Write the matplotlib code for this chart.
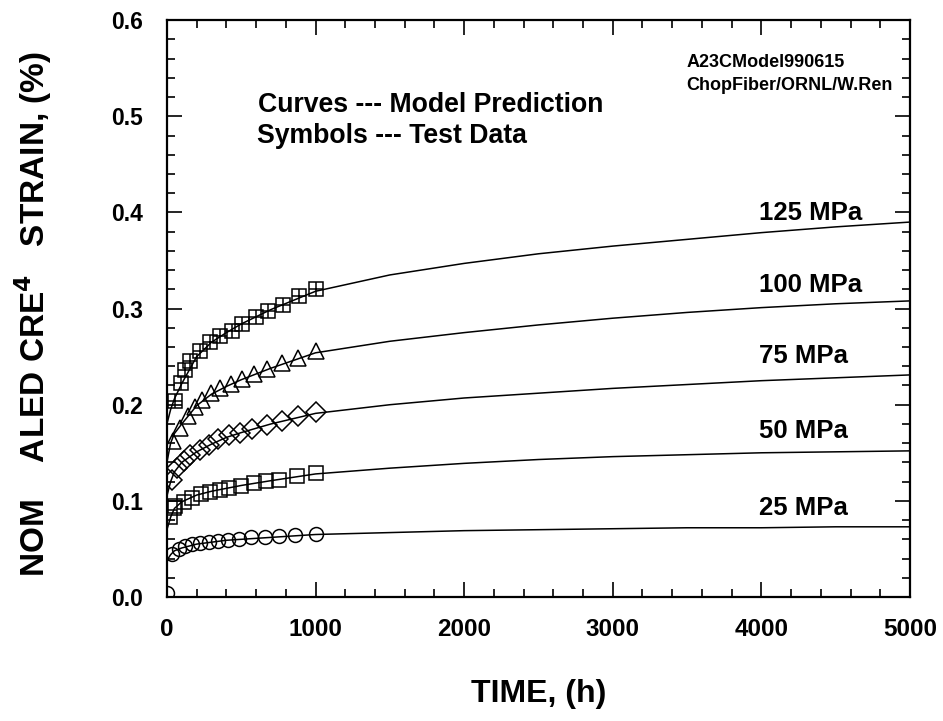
import matplotlib
matplotlib.use('Agg')
import matplotlib.pyplot as plt
from matplotlib.ticker import MultipleLocator
from matplotlib import rcParams
rcParams['font.family'] = ['Liberation Sans', 'DejaVu Sans']
rcParams['font.weight'] = 'bold'
rcParams['mathtext.default'] = 'bf'

# model prediction curves (time in h, normalized creep strain in %)
t_model = [0, 25, 50, 100, 200, 300, 400, 500, 700, 1000, 1500, 2000, 2500, 3000, 3500, 4000, 4500, 5000]
m125 = [0.180, 0.195, 0.206, 0.222, 0.250, 0.265, 0.275, 0.284, 0.299, 0.318, 0.335, 0.347, 0.357, 0.365, 0.372, 0.379, 0.385, 0.390]
m100 = [0.140, 0.160, 0.170, 0.180, 0.199, 0.211, 0.219, 0.226, 0.238, 0.254, 0.266, 0.275, 0.283, 0.290, 0.296, 0.301, 0.305, 0.308]
m75 = [0.105, 0.120, 0.130, 0.140, 0.151, 0.159, 0.166, 0.171, 0.180, 0.191, 0.200, 0.207, 0.212, 0.217, 0.221, 0.225, 0.228, 0.231]
m50 = [0.070, 0.083, 0.092, 0.099, 0.106, 0.110, 0.113, 0.116, 0.121, 0.128, 0.134, 0.139, 0.143, 0.146, 0.148, 0.150, 0.151, 0.152]
m25 = [0.038, 0.044, 0.048, 0.051, 0.055, 0.057, 0.059, 0.060, 0.062, 0.065, 0.067, 0.069, 0.070, 0.071, 0.072, 0.072, 0.073, 0.073]

# test data
t125 = [52, 97, 124, 158, 225, 293, 360, 435, 507, 597, 682, 784, 890, 1000]
d125 = [0.204, 0.223, 0.236, 0.246, 0.256, 0.265, 0.271, 0.277, 0.284, 0.291, 0.297, 0.304, 0.313, 0.320]
t100 = [38, 90, 142, 187, 236, 299, 360, 428, 502, 584, 674, 776, 884, 1000]
d100 = [0.162, 0.176, 0.188, 0.198, 0.205, 0.212, 0.217, 0.222, 0.227, 0.232, 0.237, 0.243, 0.249, 0.256]
t75 = [34, 67, 112, 157, 224, 281, 343, 415, 494, 572, 673, 774, 882, 1000]
d75 = [0.122, 0.134, 0.141, 0.148, 0.153, 0.158, 0.164, 0.168, 0.171, 0.175, 0.179, 0.183, 0.188, 0.192]
t50 = [22, 45, 56, 112, 168, 231, 292, 359, 415, 500, 584, 667, 752, 875, 1000]
d50 = [0.083, 0.093, 0.095, 0.099, 0.103, 0.107, 0.109, 0.111, 0.113, 0.115, 0.119, 0.121, 0.122, 0.126, 0.129]
t25 = [0, 34, 79, 124, 168, 224, 281, 343, 411, 487, 568, 658, 752, 864, 1000]
d25 = [0.004, 0.045, 0.050, 0.053, 0.055, 0.056, 0.057, 0.058, 0.059, 0.060, 0.062, 0.062, 0.063, 0.064, 0.066]

labels = ['125 MPa', '100 MPa', '75 MPa', '50 MPa', '25 MPa']
label_y = [0.399, 0.325, 0.251, 0.173, 0.093]

fig = plt.figure(figsize=(9.43, 7.21), dpi=100)
ax = fig.add_axes([0.177, 0.172, 0.788, 0.800])

for m in [m125, m100, m75, m50, m25]:
	ax.plot(t_model, m, color='black', linewidth=1.1)

ax.plot(t125, d125, linestyle='none', marker='s', markersize=9.5, mfc='none', mec='black', mew=1.1)
ax.plot(t125, d125, linestyle='none', marker='+', markersize=9.5, mec='black', mew=1.1)
ax.plot(t100, d100, linestyle='none', marker='^', markersize=11, mfc='none', mec='black', mew=1.1)
ax.plot(t75, d75, linestyle='none', marker='D', markersize=10, mfc='none', mec='black', mew=1.1)
ax.plot(t50, d50, linestyle='none', marker='s', markersize=10.5, mfc='none', mec='black', mew=1.1)
ax.plot(t25, d25, linestyle='none', marker='o', markersize=10, mfc='none', mec='black', mew=1.1)

for lab, y in zip(labels, label_y):
	ax.text(3985, y, lab, ha='left', va='center', fontsize=18.5, fontweight='bold')

ax.text(612, 0.512, 'Curves --- Model Prediction', fontsize=19.2, fontweight='bold', va='center')
ax.text(606, 0.480, 'Symbols --- Test Data', fontsize=19.2, fontweight='bold', va='center')
ax.text(3497, 0.556, 'A23CModel990615', fontsize=13, fontweight='bold', va='center')
ax.text(3497, 0.532, 'ChopFiber/ORNL/W.Ren', fontsize=13, fontweight='bold', va='center')

ax.set_xlim(0, 5000)
ax.set_ylim(0, 0.6)
ax.xaxis.set_major_locator(MultipleLocator(1000))
ax.xaxis.set_minor_locator(MultipleLocator(200))
ax.yaxis.set_minor_locator(MultipleLocator(0.02))
ax.set_yticks([0, 0.1, 0.2, 0.3, 0.4, 0.5, 0.6])
ax.set_yticklabels(['0.0', '0.1', '0.2', '0.3', '0.4', '0.5', '0.6'])
ax.tick_params(which='both', direction='in', top=True, right=True, width=1.2)
ax.tick_params(which='major', length=11)
ax.tick_params(which='minor', length=6)
ax.tick_params(axis='y', which='major', labelsize=16.5, pad=17)
ax.tick_params(axis='x', which='major', labelsize=17.5, pad=15)
for lab in ax.get_xticklabels() + ax.get_yticklabels():
	lab.set_fontweight('bold')
for sp in ax.spines.values():
	sp.set_linewidth(1.6)

ax.set_xlabel('TIME, (h)', fontsize=23, fontweight='bold')
ax.xaxis.set_label_coords(0.5, -0.142)
ax.set_ylabel('NOM    ALED CRE$^4$   STRAIN, (%)', fontsize=24, fontweight='bold')
ax.yaxis.set_label_coords(-0.152, 0.49)

plt.savefig('out.png', dpi=100)
